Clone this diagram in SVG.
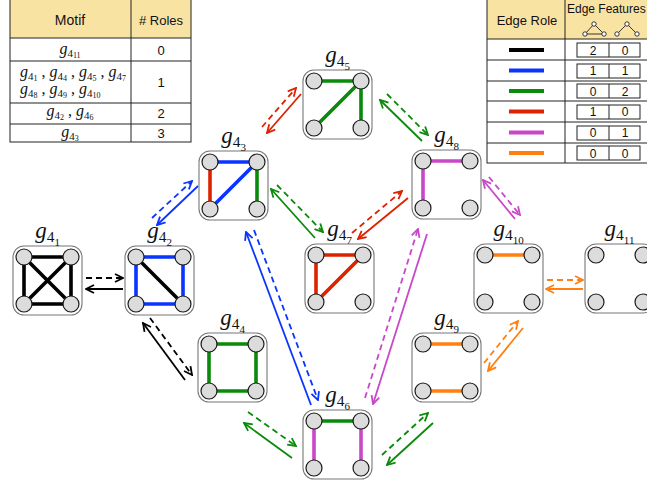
<svg xmlns="http://www.w3.org/2000/svg" width="647" height="484" viewBox="0 0 647 484">
<style>
.sans{font-family:"Liberation Sans",Arial,sans-serif;font-size:13px;fill:#111}
.math{font-family:"Liberation Serif","Times New Roman",serif;fill:#111}
.mi{font-style:italic}
.nl{font-size:23px;text-anchor:middle}
.nl .s1{font-size:15.5px}
.nl .s2{font-size:11px}
.tm{font-size:16px}
.tm .s1{font-size:11px}
.tm .s2{font-size:8px}
.hdr{fill:#f9e3a3}
.tl{stroke:#222;stroke-width:1;fill:none}
.box{fill:#fff;stroke:#777;stroke-width:1.1}
.v{fill:#dcdcdc;stroke:#1a1a1a;stroke-width:1.2}
.e{stroke-width:3.6;stroke-linecap:round;fill:none}
.k{stroke:#000}.b{stroke:#0a34ff}.gr{stroke:#0a8a0a}.r{stroke:#dd2200}.m{stroke:#c947c9}.o{stroke:#ff8010}
.a{stroke-width:1.8;fill:none}
.d{stroke-dasharray:6 4}
.role{stroke-width:4}
.fb{fill:#fff;stroke:#222;stroke-width:1}
.ic{fill:none;stroke:#222;stroke-width:0.9}
.icd{fill:#fff;stroke:#222;stroke-width:0.9}
</style>
<defs>
<marker id="hk" viewBox="0 0 10 10" refX="9" refY="5" markerWidth="10" markerHeight="10" markerUnits="userSpaceOnUse" orient="auto"><path d="M1,1 L9,5 L1,9" fill="none" stroke="#000" stroke-width="1.8"/></marker>
<marker id="hb" viewBox="0 0 10 10" refX="9" refY="5" markerWidth="10" markerHeight="10" markerUnits="userSpaceOnUse" orient="auto"><path d="M1,1 L9,5 L1,9" fill="none" stroke="#0a34ff" stroke-width="1.8"/></marker>
<marker id="hg" viewBox="0 0 10 10" refX="9" refY="5" markerWidth="10" markerHeight="10" markerUnits="userSpaceOnUse" orient="auto"><path d="M1,1 L9,5 L1,9" fill="none" stroke="#0a8a0a" stroke-width="1.8"/></marker>
<marker id="hr" viewBox="0 0 10 10" refX="9" refY="5" markerWidth="10" markerHeight="10" markerUnits="userSpaceOnUse" orient="auto"><path d="M1,1 L9,5 L1,9" fill="none" stroke="#dd2200" stroke-width="1.8"/></marker>
<marker id="hm" viewBox="0 0 10 10" refX="9" refY="5" markerWidth="10" markerHeight="10" markerUnits="userSpaceOnUse" orient="auto"><path d="M1,1 L9,5 L1,9" fill="none" stroke="#c947c9" stroke-width="1.8"/></marker>
<marker id="ho" viewBox="0 0 10 10" refX="9" refY="5" markerWidth="10" markerHeight="10" markerUnits="userSpaceOnUse" orient="auto"><path d="M1,1 L9,5 L1,9" fill="none" stroke="#ff8010" stroke-width="1.8"/></marker>
</defs>
<rect width="647" height="484" fill="#fff"/>

<!-- Left table -->
<g id="motif-table">
<rect class="hdr" x="10" y="0" width="181" height="38"/>
<rect class="tl" x="10" y="-1" width="181" height="143"/>
<line class="tl" x1="10" y1="38" x2="191" y2="38"/>
<line class="tl" x1="10" y1="61" x2="191" y2="61"/>
<line class="tl" x1="10" y1="103" x2="191" y2="103"/>
<line class="tl" x1="10" y1="124" x2="191" y2="124"/>
<line class="tl" x1="131" y1="-1" x2="131" y2="142"/>
<text class="sans" x="70" y="25" text-anchor="middle" style="font-size:14px">Motif</text>
<text class="sans" x="161" y="25" text-anchor="middle">#&#160;Roles</text>
<text class="math tm" x="70" y="54" text-anchor="middle"><tspan class="mi">g</tspan><tspan class="s1" dy="2.5">4</tspan><tspan class="s2" dy="1.5">11</tspan></text>
<text class="sans" x="161" y="55" text-anchor="middle">0</text>
<text class="math tm" x="20" y="77"><tspan class="mi">g</tspan><tspan class="s1" dy="2.5">4</tspan><tspan class="s2" dy="1.5">1</tspan><tspan dy="-4"> , </tspan><tspan class="mi">g</tspan><tspan class="s1" dy="2.5">4</tspan><tspan class="s2" dy="1.5">4</tspan><tspan dy="-4"> , </tspan><tspan class="mi">g</tspan><tspan class="s1" dy="2.5">4</tspan><tspan class="s2" dy="1.5">5</tspan><tspan dy="-4"> , </tspan><tspan class="mi">g</tspan><tspan class="s1" dy="2.5">4</tspan><tspan class="s2" dy="1.5">7</tspan></text>
<text class="math tm" x="20" y="94"><tspan class="mi">g</tspan><tspan class="s1" dy="2.5">4</tspan><tspan class="s2" dy="1.5">8</tspan><tspan dy="-4"> , </tspan><tspan class="mi">g</tspan><tspan class="s1" dy="2.5">4</tspan><tspan class="s2" dy="1.5">9</tspan><tspan dy="-4"> , </tspan><tspan class="mi">g</tspan><tspan class="s1" dy="2.5">4</tspan><tspan class="s2" dy="1.5">10</tspan></text>
<text class="sans" x="161" y="87" text-anchor="middle">1</text>
<text class="math tm" x="70" y="116" text-anchor="middle"><tspan class="mi">g</tspan><tspan class="s1" dy="2.5">4</tspan><tspan class="s2" dy="1.5">2</tspan><tspan dy="-4"> , </tspan><tspan class="mi">g</tspan><tspan class="s1" dy="2.5">4</tspan><tspan class="s2" dy="1.5">6</tspan></text>
<text class="sans" x="161" y="118" text-anchor="middle">2</text>
<text class="math tm" x="70" y="137" text-anchor="middle"><tspan class="mi">g</tspan><tspan class="s1" dy="2.5">4</tspan><tspan class="s2" dy="1.5">3</tspan></text>
<text class="sans" x="161" y="138" text-anchor="middle">3</text>
</g>

<!-- Right table -->
<g id="edge-table">
<rect class="hdr" x="487" y="0" width="175" height="39"/>
<rect class="tl" x="487" y="-1" width="175" height="164"/>
<line class="tl" x1="487" y1="39" x2="662" y2="39"/>
<line class="tl" x1="487" y1="60" x2="662" y2="60"/>
<line class="tl" x1="487" y1="81" x2="662" y2="81"/>
<line class="tl" x1="487" y1="101" x2="662" y2="101"/>
<line class="tl" x1="487" y1="122" x2="662" y2="122"/>
<line class="tl" x1="487" y1="143" x2="662" y2="143"/>
<line class="tl" x1="565" y1="-1" x2="565" y2="163"/>
<text class="sans" x="527" y="25" text-anchor="middle">Edge Role</text>
<text class="sans" x="567" y="13" style="font-size:12px">Edge Features</text>
<path class="ic" d="M594,24 L585,34 L604,34 Z"/>
<circle class="icd" cx="594" cy="24" r="2.2"/><circle class="icd" cx="585" cy="34" r="2.2"/><circle class="icd" cx="604" cy="34" r="2.2"/>
<path class="ic" d="M617,34 L627,24 L637,34"/>
<circle class="icd" cx="627" cy="24" r="2.2"/><circle class="icd" cx="617" cy="34" r="2.2"/><circle class="icd" cx="637" cy="34" r="2.2"/>
<line class="role k" x1="509" y1="50" x2="544" y2="50"/>
<line class="role b" x1="509" y1="70.5" x2="544" y2="70.5"/>
<line class="role gr" x1="509" y1="91" x2="544" y2="91"/>
<line class="role r" x1="509" y1="111.5" x2="544" y2="111.5"/>
<line class="role m" x1="509" y1="132.5" x2="544" y2="132.5"/>
<line class="role o" x1="509" y1="153" x2="544" y2="153"/>
<g class="fb">
<rect x="577" y="43" width="63" height="14"/><line x1="609" y1="43" x2="609" y2="57"/>
<rect x="577" y="64" width="63" height="14"/><line x1="609" y1="64" x2="609" y2="78"/>
<rect x="577" y="84" width="63" height="14"/><line x1="609" y1="84" x2="609" y2="98"/>
<rect x="577" y="105" width="63" height="14"/><line x1="609" y1="105" x2="609" y2="119"/>
<rect x="577" y="126" width="63" height="14"/><line x1="609" y1="126" x2="609" y2="140"/>
<rect x="577" y="146" width="63" height="14"/><line x1="609" y1="146" x2="609" y2="160"/>
</g>
<g class="sans" text-anchor="middle" style="font-size:12px">
<text x="593" y="54.5">2</text><text x="625" y="54.5">0</text>
<text x="593" y="75">1</text><text x="625" y="75">1</text>
<text x="593" y="95.5">0</text><text x="625" y="95.5">2</text>
<text x="593" y="116">1</text><text x="625" y="116">0</text>
<text x="593" y="137">0</text><text x="625" y="137">1</text>
<text x="593" y="157.5">0</text><text x="625" y="157.5">0</text>
</g>
</g>

<!-- Connectors -->
<g id="connectors">
<line class="a k d" x1="86" y1="278" x2="123" y2="278" marker-end="url(#hk)"/>
<line class="a k" x1="123" y1="289" x2="86" y2="289" marker-end="url(#hk)"/>
<line class="a k d" x1="150" y1="318" x2="192" y2="375" marker-end="url(#hk)"/>
<line class="a k" x1="185" y1="380" x2="143" y2="323" marker-end="url(#hk)"/>
<line class="a b d" x1="152" y1="218" x2="192" y2="181" marker-end="url(#hb)"/>
<line class="a b" x1="198" y1="186" x2="157" y2="225" marker-end="url(#hb)"/>
<line class="a b d" x1="254" y1="230" x2="318" y2="400" marker-end="url(#hb)"/>
<line class="a b" x1="311" y1="405" x2="246" y2="232" marker-end="url(#hb)"/>
<line class="a r d" x1="262" y1="127" x2="296" y2="88" marker-end="url(#hr)"/>
<line class="a r" x1="301" y1="94" x2="267" y2="133" marker-end="url(#hr)"/>
<line class="a r d" x1="352" y1="233" x2="402" y2="191" marker-end="url(#hr)"/>
<line class="a r" x1="408" y1="198" x2="358" y2="239" marker-end="url(#hr)"/>
<line class="a gr d" x1="277" y1="185" x2="323" y2="232" marker-end="url(#hg)"/>
<line class="a gr" x1="315" y1="238" x2="271" y2="189" marker-end="url(#hg)"/>
<line class="a gr d" x1="387" y1="94" x2="428" y2="135" marker-end="url(#hg)"/>
<line class="a gr" x1="422" y1="141" x2="380" y2="100" marker-end="url(#hg)"/>
<line class="a gr d" x1="248" y1="412" x2="296" y2="446" marker-end="url(#hg)"/>
<line class="a gr" x1="292" y1="458" x2="244" y2="423" marker-end="url(#hg)"/>
<line class="a gr d" x1="382" y1="455" x2="428" y2="413" marker-end="url(#hg)"/>
<line class="a gr" x1="433" y1="423" x2="387" y2="465" marker-end="url(#hg)"/>
<line class="a m d" x1="365" y1="398" x2="418" y2="229" marker-end="url(#hm)"/>
<line class="a m" x1="427" y1="234" x2="373" y2="404" marker-end="url(#hm)"/>
<line class="a m d" x1="489" y1="177" x2="520" y2="215" marker-end="url(#hm)"/>
<line class="a m" x1="515" y1="219" x2="483" y2="180" marker-end="url(#hm)"/>
<line class="a o d" x1="547" y1="280" x2="583" y2="280" marker-end="url(#ho)"/>
<line class="a o" x1="583" y1="289" x2="546" y2="289" marker-end="url(#ho)"/>
<line class="a o d" x1="484" y1="363" x2="518" y2="321" marker-end="url(#ho)"/>
<line class="a o" x1="523" y1="328" x2="488" y2="371" marker-end="url(#ho)"/>
</g>

<!-- Nodes -->
<g id="g41">
<rect class="box" x="13" y="246" width="69" height="69" rx="11"/>
<path class="e k" d="M24,257H71V304H24Z M24,257L71,304 M71,257L24,304"/>
<circle class="v" cx="24" cy="257" r="8"/><circle class="v" cx="71" cy="257" r="8"/><circle class="v" cx="24" cy="304" r="8"/><circle class="v" cx="71" cy="304" r="8"/>
<text class="math nl" x="47.5" y="238"><tspan class="mi">g</tspan><tspan class="s1" dy="4">4</tspan><tspan class="s2" dy="4">1</tspan></text>
</g>
<g id="g42">
<rect class="box" x="125" y="246" width="69" height="69" rx="11"/>
<path class="e b" d="M136,257H183V304H136Z"/>
<path class="e k" d="M136,257L183,304"/>
<circle class="v" cx="136" cy="257" r="8"/><circle class="v" cx="183" cy="257" r="8"/><circle class="v" cx="136" cy="304" r="8"/><circle class="v" cx="183" cy="304" r="8"/>
<text class="math nl" x="159.5" y="238"><tspan class="mi">g</tspan><tspan class="s1" dy="4">4</tspan><tspan class="s2" dy="4">2</tspan></text>
</g>
<g id="g43">
<rect class="box" x="199" y="151" width="69" height="69" rx="11"/>
<path class="e b" d="M210,162H257L210,209"/>
<path class="e r" d="M210,162V209"/>
<path class="e gr" d="M257,162V209"/>
<circle class="v" cx="210" cy="162" r="8"/><circle class="v" cx="257" cy="162" r="8"/><circle class="v" cx="210" cy="209" r="8"/><circle class="v" cx="257" cy="209" r="8"/>
<text class="math nl" x="233.5" y="143"><tspan class="mi">g</tspan><tspan class="s1" dy="4">4</tspan><tspan class="s2" dy="4">3</tspan></text>
</g>
<g id="g44">
<rect class="box" x="198" y="333" width="69" height="69" rx="11"/>
<path class="e gr" d="M209,344H256V391H209Z"/>
<circle class="v" cx="209" cy="344" r="8"/><circle class="v" cx="256" cy="344" r="8"/><circle class="v" cx="209" cy="391" r="8"/><circle class="v" cx="256" cy="391" r="8"/>
<text class="math nl" x="232.5" y="325"><tspan class="mi">g</tspan><tspan class="s1" dy="4">4</tspan><tspan class="s2" dy="4">4</tspan></text>
</g>
<g id="g45">
<rect class="box" x="303" y="70" width="69" height="69" rx="11"/>
<path class="e gr" d="M314,81H361V128 M361,81L314,128"/>
<circle class="v" cx="314" cy="81" r="8"/><circle class="v" cx="361" cy="81" r="8"/><circle class="v" cx="314" cy="128" r="8"/><circle class="v" cx="361" cy="128" r="8"/>
<text class="math nl" x="337.5" y="62"><tspan class="mi">g</tspan><tspan class="s1" dy="4">4</tspan><tspan class="s2" dy="4">5</tspan></text>
</g>
<g id="g46">
<rect class="box" x="303" y="410" width="69" height="69" rx="11"/>
<path class="e gr" d="M314,421H361"/>
<path class="e m" d="M314,421V468 M361,421V468"/>
<circle class="v" cx="314" cy="421" r="8"/><circle class="v" cx="361" cy="421" r="8"/><circle class="v" cx="314" cy="468" r="8"/><circle class="v" cx="361" cy="468" r="8"/>
<text class="math nl" x="337.5" y="402"><tspan class="mi">g</tspan><tspan class="s1" dy="4">4</tspan><tspan class="s2" dy="4">6</tspan></text>
</g>
<g id="g47">
<rect class="box" x="305" y="244" width="69" height="69" rx="11"/>
<path class="e r" d="M316,302V255H363L316,302"/>
<circle class="v" cx="316" cy="255" r="8"/><circle class="v" cx="363" cy="255" r="8"/><circle class="v" cx="316" cy="302" r="8"/><circle class="v" cx="363" cy="302" r="8"/>
<text class="math nl" x="339.5" y="236"><tspan class="mi">g</tspan><tspan class="s1" dy="4">4</tspan><tspan class="s2" dy="4">7</tspan></text>
</g>
<g id="g48">
<rect class="box" x="412" y="150" width="69" height="69" rx="11"/>
<path class="e m" d="M423,208V161H470"/>
<circle class="v" cx="423" cy="161" r="8"/><circle class="v" cx="470" cy="161" r="8"/><circle class="v" cx="423" cy="208" r="8"/><circle class="v" cx="470" cy="208" r="8"/>
<text class="math nl" x="446.5" y="142"><tspan class="mi">g</tspan><tspan class="s1" dy="4">4</tspan><tspan class="s2" dy="4">8</tspan></text>
</g>
<g id="g49">
<rect class="box" x="412" y="333" width="69" height="69" rx="11"/>
<path class="e o" d="M423,344H470 M423,391H470"/>
<circle class="v" cx="423" cy="344" r="8"/><circle class="v" cx="470" cy="344" r="8"/><circle class="v" cx="423" cy="391" r="8"/><circle class="v" cx="470" cy="391" r="8"/>
<text class="math nl" x="446.5" y="325"><tspan class="mi">g</tspan><tspan class="s1" dy="4">4</tspan><tspan class="s2" dy="4">9</tspan></text>
</g>
<g id="g410">
<rect class="box" x="474" y="244" width="69" height="69" rx="11"/>
<path class="e o" d="M485,255H532"/>
<circle class="v" cx="485" cy="255" r="8"/><circle class="v" cx="532" cy="255" r="8"/><circle class="v" cx="485" cy="302" r="8"/><circle class="v" cx="532" cy="302" r="8"/>
<text class="math nl" x="508.5" y="236"><tspan class="mi">g</tspan><tspan class="s1" dy="4">4</tspan><tspan class="s2" dy="4">10</tspan></text>
</g>
<g id="g411">
<rect class="box" x="585" y="244" width="69" height="69" rx="11"/>
<circle class="v" cx="596" cy="255" r="8"/><circle class="v" cx="643" cy="255" r="8"/><circle class="v" cx="596" cy="302" r="8"/><circle class="v" cx="643" cy="302" r="8"/>
<text class="math nl" x="619.5" y="236"><tspan class="mi">g</tspan><tspan class="s1" dy="4">4</tspan><tspan class="s2" dy="4">11</tspan></text>
</g>
</svg>
